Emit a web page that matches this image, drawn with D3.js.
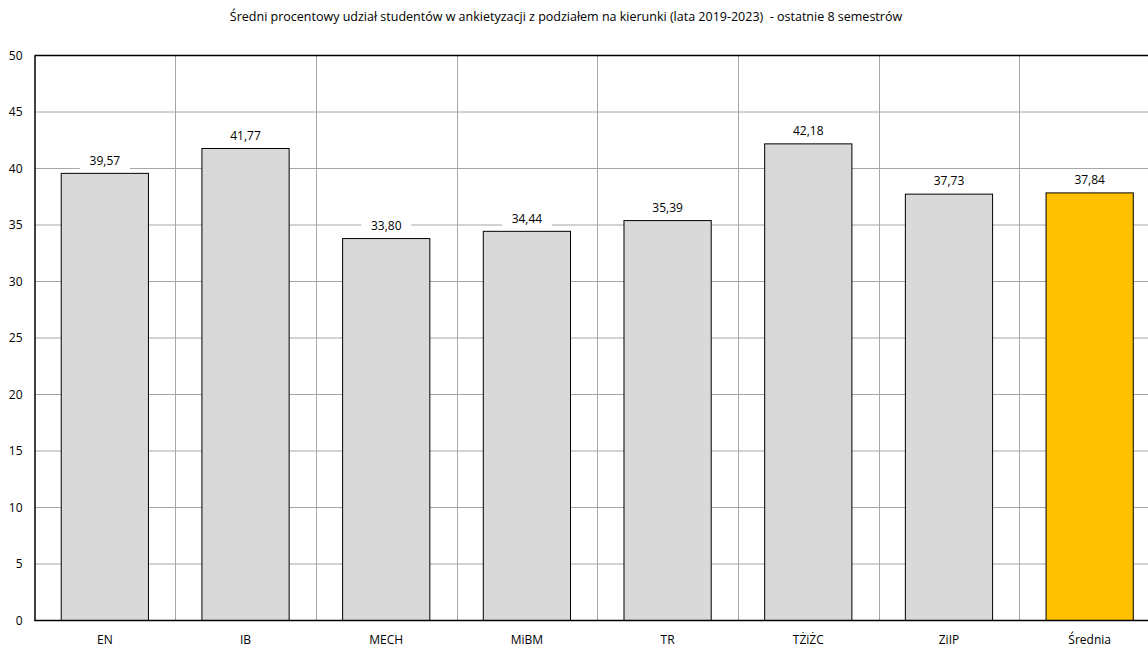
<!DOCTYPE html>
<html><head><meta charset="utf-8">
<script src="https://cdn.jsdelivr.net/npm/d3@7"></script>
<style>body{margin:0;background:#fff;overflow:hidden}svg{display:block}text{font-family:"Open Sans","Noto Sans",sans-serif;fill:#000}</style>
</head><body>
<script>
const categories = ["EN","IB","MECH","MiBM","TR","TŻiŻC","ZiIP","Średnia"];
const values = [39.57,41.77,33.80,34.44,35.39,42.18,37.73,37.84];
const yTicks = [0,5,10,15,20,25,30,35,40,45,50];
const title = "Średni procentowy udział studentów w ankietyzacji z podziałem na kierunki (lata 2019-2023)  - ostatnie 8 semestrów";

const W=1148,H=648;
const svg=d3.select("body").append("svg").attr("width",W).attr("height",H);
const x=d3.scaleBand().domain(categories).range([34.5,1160]).paddingInner(0.38).paddingOuter(0.19);
const y=d3.scaleLinear().domain([0,50]).range([620.5,55.5]);
const step=x.step(), x0=34.5;

// horizontal grid
svg.append("g").selectAll("line").data(yTicks.slice(1)).join("line")
 .attr("x1",x0).attr("x2",W).attr("y1",d=>y(d)).attr("y2",d=>y(d))
 .attr("stroke","#a6a6a6").attr("stroke-width",1);
// vertical grid at category boundaries
svg.append("g").selectAll("line").data(categories.slice(1)).join("line")
 .attr("x1",(d,i)=>Math.round(x0+step*(i+1))+0.5).attr("x2",(d,i)=>Math.round(x0+step*(i+1))+0.5)
 .attr("y1",y(50)).attr("y2",y(0)).attr("stroke","#a6a6a6");

// top border
svg.append("line").attr("x1",x0).attr("x2",W).attr("y1",y(50)).attr("y2",y(50)).attr("stroke","#000").attr("stroke-width",1.5);

// bars
svg.append("g").selectAll("rect").data(values).join("rect")
 .attr("x",(d,i)=>x(categories[i])).attr("width",x.bandwidth())
 .attr("y",d=>y(d)).attr("height",d=>y(0)-y(d))
 .attr("fill",(d,i)=>i===categories.length-1?"#ffc000":"#d9d9d9")
 .attr("stroke","#000").attr("stroke-width",1);

// axes
const ya=svg.append("g").attr("transform",`translate(${x0},0)`)
 .call(d3.axisLeft(y).tickValues(yTicks).tickSize(0).tickPadding(12));
ya.select(".domain").attr("stroke","#000").attr("stroke-width",1.5);
ya.selectAll("text").style("font-size","12px").attr("fill","#000");
const xa=svg.append("g").attr("transform",`translate(0,${y(0)})`)
 .call(d3.axisBottom(x).tickSize(0).tickPadding(15));
xa.select(".domain").attr("d",`M${x0},0H${W}`).attr("stroke","#000").attr("stroke-width",1.5);
xa.selectAll("text").style("font-size","12px").attr("fill","#000");

// value labels with white background
const fmt=d=>d.toFixed(2).replace(".",",");
const lg=svg.append("g").selectAll("g").data(values).join("g")
 .attr("transform",(d,i)=>`translate(${x(categories[i])+x.bandwidth()/2},${y(d)-13})`);
lg.append("rect").attr("x",-25).attr("y",-9).attr("width",50).attr("height",18).attr("fill","#fff");
lg.append("text").attr("text-anchor","middle").attr("dy","0.35em").style("font-size","12px").text(fmt);

// title
svg.append("text").attr("x",566).attr("y",17).attr("text-anchor","middle").attr("dy","0.35em")
 .style("font-size","12.5px").style("white-space","pre").text(title);
</script>
</body></html>
